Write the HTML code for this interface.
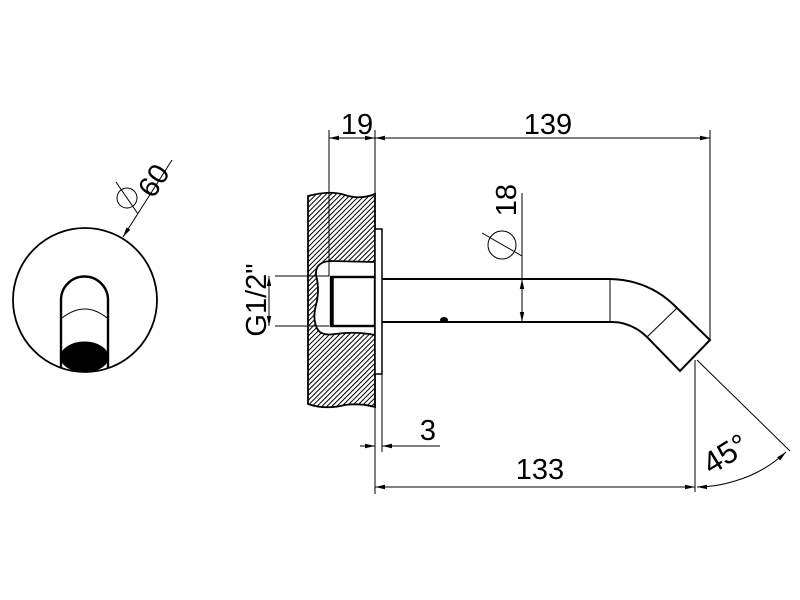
<!DOCTYPE html>
<html><head><meta charset="utf-8"><style>
html,body{margin:0;padding:0;background:#fff;}
svg{display:block;}
text{font-family:"Liberation Sans",sans-serif;fill:#000;}
</style></head><body>
<svg width="800" height="600" viewBox="0 0 800 600" xmlns="http://www.w3.org/2000/svg">
<defs>
<pattern id="h" patternUnits="userSpaceOnUse" width="3.5" height="3.5" patternTransform="rotate(45)">
<line x1="0.5" y1="0" x2="0.5" y2="3.5" stroke="#000" stroke-width="1"/>
</pattern>
<marker id="a" markerWidth="10" markerHeight="6" refX="10" refY="3" orient="auto" markerUnits="userSpaceOnUse">
<path d="M0,0.8 L10,3 L0,5.2 Z" fill="#000"/>
</marker>
</defs>
<g fill="none" stroke="#000">
<!-- left circle view -->
<circle cx="85" cy="300" r="72" stroke-width="1.8"/>
<path d="M61,368 L61,300 A23.5,23.5 0 0 1 108,300 L108,368" stroke-width="2.4"/>
<path d="M62,318 Q85,300 107,318" stroke-width="1"/>
<ellipse cx="84.5" cy="357" rx="23.5" ry="15" fill="#000"/>
<line x1="172" y1="160" x2="123" y2="237" stroke-width="1" marker-end="url(#a)"/>
<circle cx="127" cy="198" r="10" stroke-width="1"/>
<line x1="116" y1="182" x2="138" y2="214" stroke-width="1"/>

<!-- wall -->
<path d="M308,196 Q330,190 345,195 Q360,200 375,194 L375,407 Q360,403 345,405 Q325,410 308,404 Z" fill="url(#h)" stroke-width="1.8"/>
<path d="M375,262 L330,261 Q315,262 316,275 Q320,290 316,305 Q312,320 318,330 Q322,336 335,334 Q355,331 375,335 Z" fill="#fff" stroke-width="1.8"/>
<rect x="331" y="277" width="44" height="49" fill="#fff" stroke-width="2.4"/>
<line x1="332" y1="277" x2="332" y2="325" stroke-width="3.5"/>
<line x1="329" y1="130" x2="329" y2="276" stroke-width="1"/>
<line x1="375" y1="130" x2="375" y2="494" stroke-width="1"/>
<!-- flange -->
<rect x="375" y="229" width="7" height="145" fill="#fff" stroke-width="1.5"/>
<line x1="382" y1="374" x2="382" y2="452" stroke-width="1"/>
<!-- pipe -->
<path d="M382,279 L610,279 Q650,280 677,308 L710,340 L680,371 L647,337 Q630,321 610,322 L382,322" stroke-width="2"/>
<line x1="610" y1="279" x2="610" y2="322" stroke-width="1"/>
<line x1="677" y1="308" x2="647" y2="337" stroke-width="1"/>
<ellipse cx="444" cy="320" rx="4" ry="3" fill="#000" stroke="none"/>
<!-- 19 / 139 -->
<line x1="710" y1="130" x2="710" y2="340" stroke-width="1"/>
<line x1="352" y1="138" x2="329" y2="138" stroke-width="1" marker-end="url(#a)"/>
<line x1="352" y1="138" x2="375" y2="138" stroke-width="1" marker-end="url(#a)"/>
<line x1="540" y1="138" x2="375" y2="138" stroke-width="1" marker-end="url(#a)"/>
<line x1="540" y1="138" x2="710" y2="138" stroke-width="1" marker-end="url(#a)"/>
<!-- ø18 -->
<line x1="522" y1="193" x2="522" y2="279" stroke-width="1"/>
<line x1="522" y1="300" x2="522" y2="279" stroke-width="1" marker-end="url(#a)"/>
<line x1="522" y1="300" x2="522" y2="322" stroke-width="1" marker-end="url(#a)"/>
<circle cx="502" cy="245" r="14" stroke-width="1"/>
<line x1="482" y1="233" x2="522" y2="256" stroke-width="1"/>
<!-- G1/2 -->
<line x1="329" y1="276" x2="275" y2="276" stroke-width="1"/>
<line x1="329" y1="326" x2="275" y2="326" stroke-width="1"/>
<line x1="269" y1="301" x2="269" y2="276" stroke-width="1" marker-end="url(#a)"/>
<line x1="269" y1="301" x2="269" y2="326" stroke-width="1" marker-end="url(#a)"/>
<!-- 3 -->
<line x1="360" y1="446" x2="375" y2="446" stroke-width="1" marker-end="url(#a)"/>
<line x1="440" y1="446" x2="382" y2="446" stroke-width="1" marker-end="url(#a)"/>
<!-- 133 -->
<line x1="535" y1="487" x2="375" y2="487" stroke-width="1" marker-end="url(#a)"/>
<line x1="535" y1="487" x2="695" y2="487" stroke-width="1" marker-end="url(#a)"/>
<line x1="695" y1="360" x2="695" y2="492" stroke-width="1"/>
<!-- 45 -->
<line x1="697" y1="360" x2="790" y2="451" stroke-width="1"/>
<path d="M735,481 A126,126 0 0 0 786,452" stroke-width="1" marker-end="url(#a)"/>
<path d="M735,481 A126,126 0 0 1 697,487" stroke-width="1" marker-end="url(#a)"/>
</g>
<text x="357" y="134" font-size="29" text-anchor="middle">19</text>
<text x="548" y="134" font-size="29" text-anchor="middle">139</text>
<text x="428" y="440" font-size="29" text-anchor="middle">3</text>
<text x="540" y="479" font-size="29" text-anchor="middle">133</text>
<text transform="translate(516,184) rotate(-90)" font-size="29" text-anchor="end">18</text>
<text transform="translate(266,300) rotate(-90)" font-size="29" text-anchor="middle">G1/2"</text>
<text transform="translate(162,186) rotate(-57)" font-size="29" text-anchor="middle">60</text>
<text transform="translate(731,463) rotate(-32)" font-size="31" text-anchor="middle">45°</text>
</svg>
</body></html>
